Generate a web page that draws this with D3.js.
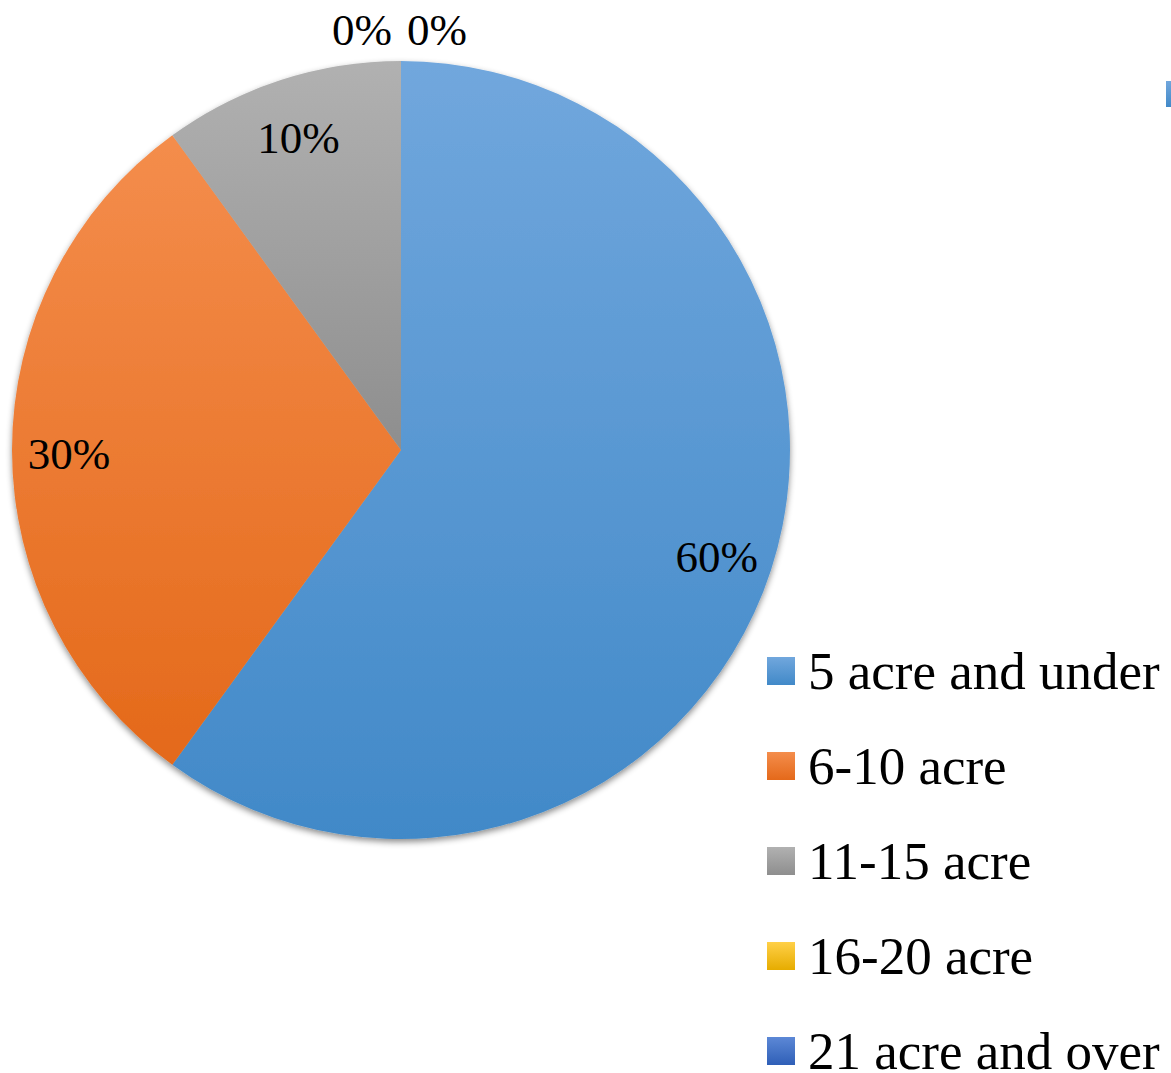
<!DOCTYPE html>
<html>
<head>
<meta charset="utf-8">
<script src="https://cdn.jsdelivr.net/npm/d3@7"></script>
<style>
  body { margin: 0; background: #fff; }
  svg { display: block; font-family: "Liberation Serif", "Times New Roman", serif; }
</style>
</head>
<body>
<div id="chart"></div>
<script>
// data
var categories = ['5 acre and under', '6-10 acre', '11-15 acre', '16-20 acre', '21 acre and over'];
var values = [60, 30, 10, 0, 0];
var topColors = ['#71a7dd', '#f48d4c', '#b1b1b1', '#ffd048', '#5c88d6'];
var bottomColors = ['#4189c8', '#e4691a', '#8e8e8e', '#e6ac00', '#2f5fb7'];

var width = 1171, height = 1073,
    cx = 401, cy = 450, radius = 389,
    labelRadius = 332;

var svg = d3.select("#chart").append("svg")
    .attr("width", width).attr("height", height);

var defs = svg.append("defs");

categories.forEach(function(c, i) {
  var g = defs.append("linearGradient")
      .attr("id", "grad" + i)
      .attr("x1", 0).attr("y1", 0).attr("x2", 0).attr("y2", 1);
  g.append("stop").attr("offset", "0%").attr("stop-color", topColors[i]);
  g.append("stop").attr("offset", "100%").attr("stop-color", bottomColors[i]);
});

var shadow = defs.append("filter").attr("id", "shadow")
    .attr("x", "-10%").attr("y", "-10%").attr("width", "120%").attr("height", "120%");
shadow.append("feDropShadow")
    .attr("dx", 0).attr("dy", 3).attr("stdDeviation", 3)
    .attr("flood-color", "#000").attr("flood-opacity", 0.45);

var pie = d3.pie().sort(null).value(function(d) { return d; });
var arcs = pie(values);

var arc = d3.arc().innerRadius(0).outerRadius(radius);
var labelArc = d3.arc().innerRadius(labelRadius).outerRadius(labelRadius);

var pieG = svg.append("g")
    .attr("transform", "translate(" + cx + "," + cy + ")");

pieG.append("g")
    .attr("filter", "url(#shadow)")
  .selectAll("path")
  .data(arcs.filter(function(d) { return d.value > 0; }))
  .enter().append("path")
    .attr("d", arc)
    .attr("fill", function(d) { return "url(#grad" + d.index + ")"; });

// data labels
pieG.selectAll("text.lbl")
  .data(arcs)
  .enter().append("text")
    .attr("class", "lbl")
    .attr("font-size", 45)
    .attr("fill", "#000")
    .attr("dominant-baseline", "central")
    .each(function(d) {
      var t = d3.select(this);
      if (d.value > 0) {
        var p = labelArc.centroid(d);
        t.attr("x", p[0]).attr("y", p[1] + 4).attr("text-anchor", "middle");
      } else {
        // zero slices sit outside the top edge
        var first = d.index === 3;
        t.attr("x", first ? -9 : 6)
         .attr("y", -radius - 31)
         .attr("text-anchor", first ? "end" : "start");
      }
    })
    .text(function(d) { return d.value + "%"; });

// legend
var legendY = d3.scalePoint().domain(categories).range([671, 1051]);

var legend = svg.append("g").selectAll("g")
  .data(categories)
  .enter().append("g")
    .attr("transform", function(d) { return "translate(767," + legendY(d) + ")"; });

legend.append("rect")
    .attr("x", 0).attr("y", -14)
    .attr("width", 28).attr("height", 28)
    .attr("fill", function(d, i) { return "url(#grad" + i + ")"; });

legend.append("text")
    .attr("x", 41)
    .attr("y", 0)
    .attr("dy", "0.34em")
    .attr("font-size", 53)
    .attr("fill", "#000")
    .text(function(d) { return d; });

// clipped swatch at the top right edge
svg.append("rect")
    .attr("x", 1166).attr("y", 81)
    .attr("width", 6).attr("height", 26)
    .attr("fill", "url(#grad0)");
</script>
</body>
</html>
